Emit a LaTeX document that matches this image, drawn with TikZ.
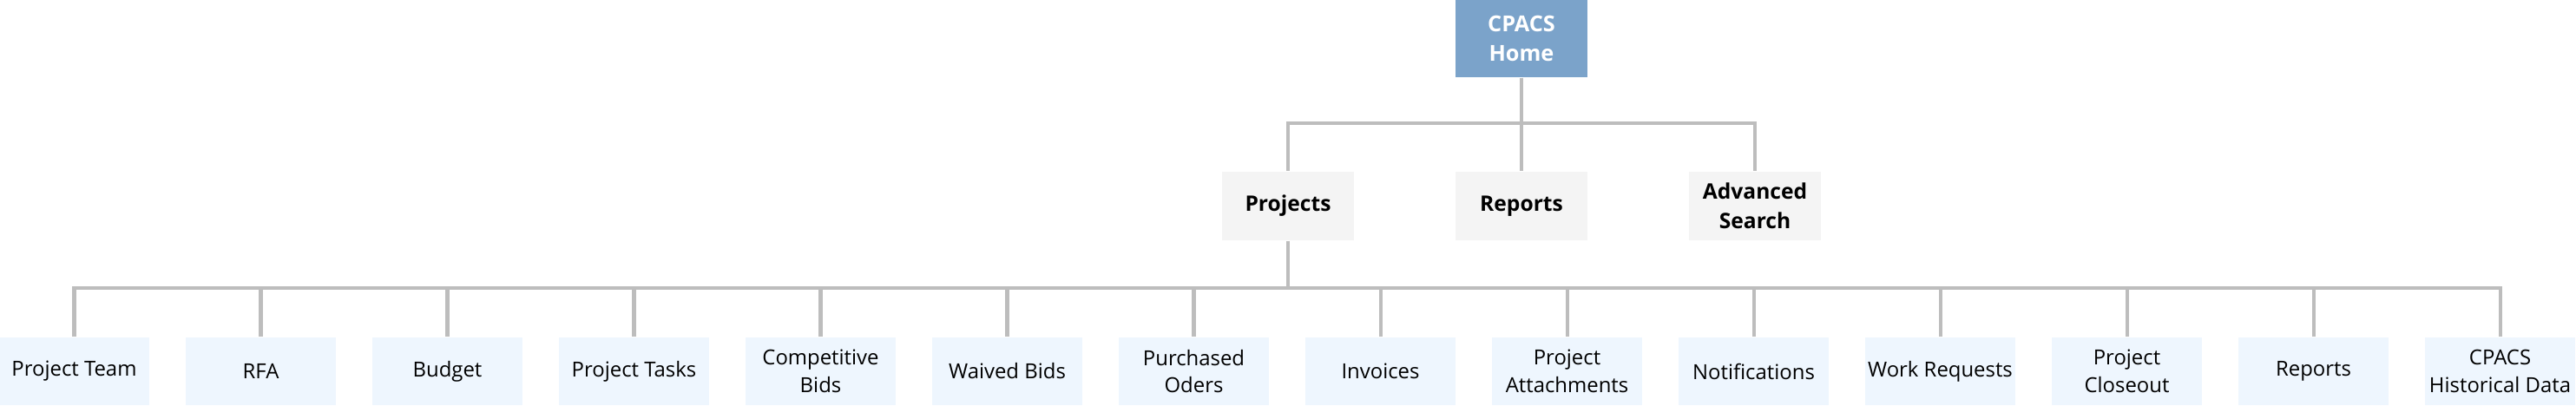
\documentclass[tikz,border=0pt]{standalone}
\usepackage{fontspec}
\setmainfont{Open Sans}
\usetikzlibrary{positioning}
\definecolor{homeblue}{HTML}{7BA3CA}
\definecolor{secgray}{HTML}{F4F4F4}
\definecolor{leafblue}{HTML}{EEF6FE}
\definecolor{linegray}{HTML}{BDBDBD}
\tikzset{
every node/.style={inner sep=0pt, align=center}, % all boxes are sized by hand
home/.style={fill=homeblue, text=white, font=\fontsize{7.2}{9.6}\selectfont\bfseries, minimum width=1.52cm, minimum height=0.89cm},
sect/.style={fill=secgray, font=\fontsize{7}{9.6}\selectfont\bfseries, minimum width=1.52cm, minimum height=0.79cm},
leaf/.style={fill=leafblue, font=\fontsize{6.8}{9}\selectfont, minimum width=1.73cm, minimum height=0.78cm},
conn/.style={draw=linegray, line width=1.15pt}, % the grey tree lines
}

\begin{document}
\begin{tikzpicture}[on grid]
\useasboundingbox (0,0) rectangle (29.68,-4.67);

\node[home] (home) at (17.53,-0.445) {CPACS\\Home};

\node[sect, below=1.93cm of home] (reports) {Reports};
\node[sect, left=2.69cm of reports] (projects) {Projects};
\node[sect, right=2.69cm of reports] (search) {Advanced\\Search};

\node[leaf] (team) at (0.855,-4.28) {Project Team};
\node[leaf, right=2.15cm of team] (rfa) {RFA};
\node[leaf, right=2.15cm of rfa] (budget) {Budget};
\node[leaf, right=2.15cm of budget] (tasks) {Project Tasks};
\node[leaf, right=2.15cm of tasks] (compbids) {Competitive\\Bids};
\node[leaf, right=2.15cm of compbids] (waived) {Waived Bids};
\node[leaf, right=2.15cm of waived] (purchased) {Purchased\\Oders};
\node[leaf, right=2.15cm of purchased] (invoices) {Invoices};
\node[leaf, right=2.15cm of invoices] (attach) {Project\\Attachments};
\node[leaf, right=2.15cm of attach] (notif) {Notifications};
\node[leaf, right=2.15cm of notif] (workreq) {Work Requests};
\node[leaf, right=2.15cm of workreq] (closeout) {Project\\Closeout};
\node[leaf, right=2.15cm of closeout] (preports) {Reports};
\node[leaf, right=2.15cm of preports] (history) {CPACS\\Historical Data};

% top level
\draw[conn] (home.south) -- (reports.north);
\draw[conn] (home.south) -- ++(0,-0.52) -| (projects.north);
\draw[conn] (home.south) -- ++(0,-0.52) -| (search.north);

% under Projects
\coordinate[below=0.54cm of projects.south] (bar);
\draw[conn] (projects.south) -- (bar);
\draw[conn] (bar) -| (team.north);
\draw[conn] (bar) -| (rfa.north);
\draw[conn] (bar) -| (budget.north);
\draw[conn] (bar) -| (tasks.north);
\draw[conn] (bar) -| (compbids.north);
\draw[conn] (bar) -| (waived.north);
\draw[conn] (bar) -| (purchased.north);
\draw[conn] (bar) -| (invoices.north);
\draw[conn] (bar) -| (attach.north);
\draw[conn] (bar) -| (notif.north);
\draw[conn] (bar) -| (workreq.north);
\draw[conn] (bar) -| (closeout.north);
\draw[conn] (bar) -| (preports.north);
\draw[conn] (bar) -| (history.north);

\end{tikzpicture}
\end{document}
